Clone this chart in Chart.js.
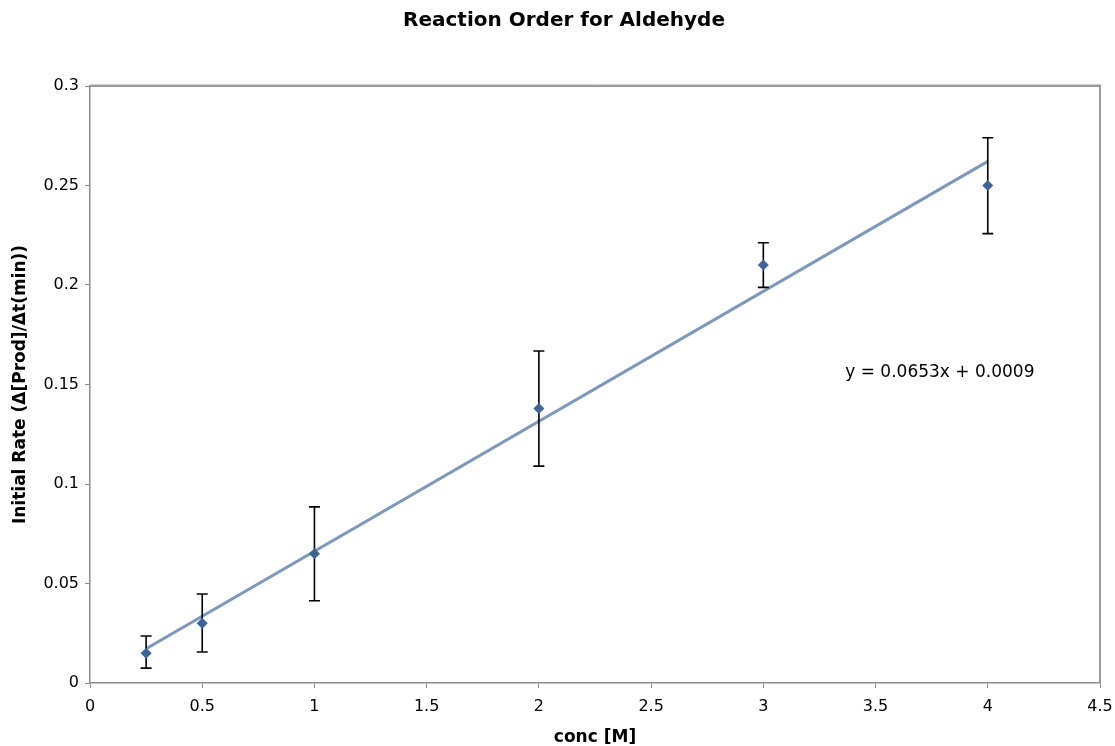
<!DOCTYPE html>
<html>
<head>
<meta charset="utf-8">
<title>Reaction Order for Aldehyde</title>
<script src="https://cdn.jsdelivr.net/npm/chart.js@4"></script>
<style>
  html, body { margin: 0; padding: 0; background: #fff; }
  #wrap { width: 1115px; height: 746px; }
</style>
</head>
<body>
<div id="wrap"><canvas id="rate-chart"></canvas></div>
<script>
// concentration [M] and measured initial rate
const concentrations = [0.25, 0.5, 1, 2, 3, 4];
const initialRates = [0.015, 0.030, 0.065, 0.138, 0.210, 0.250];
// error bar extents (upper / lower)
const rateHigh = [0.0236, 0.0447, 0.0885, 0.1668, 0.2212, 0.2740];
const rateLow = [0.0075, 0.0156, 0.0413, 0.1090, 0.1988, 0.2258];

// linear fit shown on the chart
const fitSlope = 0.0653;
const fitIntercept = 0.0009;
const fitLabel = "y = 0.0653x + 0.0009";
const fitLabelAt = { x: 3.365, y: 0.156 };

const chartTitle = "Reaction Order for Aldehyde";
const xTicks = [0, 0.5, 1, 1.5, 2, 2.5, 3, 3.5, 4, 4.5];
const yTicks = [0, 0.05, 0.1, 0.15, 0.2, 0.25, 0.3];

const fontFamily = "'DejaVu Sans', Verdana, sans-serif";

const points = concentrations.map((c, i) => ({ x: c, y: initialRates[i] }));
const xFirst = concentrations[0];
const xLast = concentrations[concentrations.length - 1];
const fitLine = [
  { x: xFirst, y: fitSlope * xFirst + fitIntercept },
  { x: xLast, y: fitSlope * xLast + fitIntercept },
];

// vertical error bars with caps, then the diamond markers on top
const errorBars = {
  id: "errorBars",
  afterDatasetsDraw(chart) {
    const { ctx, scales } = chart;
    ctx.save();
    ctx.strokeStyle = "#000";
    ctx.lineWidth = 1.6;
    concentrations.forEach((c, i) => {
      const px = scales.x.getPixelForValue(c);
      const top = scales.y.getPixelForValue(rateHigh[i]);
      const bot = scales.y.getPixelForValue(rateLow[i]);
      ctx.beginPath();
      ctx.moveTo(px, top);
      ctx.lineTo(px, bot);
      ctx.moveTo(px - 5.5, top);
      ctx.lineTo(px + 5.5, top);
      ctx.moveTo(px - 5.5, bot);
      ctx.lineTo(px + 5.5, bot);
      ctx.stroke();
    });
    const meta = chart.getDatasetMeta(0);
    ctx.fillStyle = "#3e6595";
    meta.data.forEach((pt) => {
      ctx.beginPath();
      ctx.moveTo(pt.x, pt.y - 5.5);
      ctx.lineTo(pt.x + 5.5, pt.y);
      ctx.lineTo(pt.x, pt.y + 5.5);
      ctx.lineTo(pt.x - 5.5, pt.y);
      ctx.closePath();
      ctx.fill();
    });
    ctx.restore();
  },
};

// title, top/right frame of the plot area and the fit equation
const frameAndLabel = {
  id: "frameAndLabel",
  afterDraw(chart) {
    const { ctx, chartArea, scales } = chart;
    ctx.save();
    ctx.strokeStyle = "#d4d4d4";
    ctx.lineWidth = 1;
    ctx.beginPath();
    ctx.moveTo(chartArea.left, chartArea.top - 1.5);
    ctx.lineTo(chartArea.right + 1.5, chartArea.top - 1.5);
    ctx.stroke();
    ctx.strokeStyle = "#9a9a9a";
    ctx.lineWidth = 2;
    ctx.beginPath();
    ctx.moveTo(chartArea.left, chartArea.top);
    ctx.lineTo(chartArea.right, chartArea.top);
    ctx.lineTo(chartArea.right, chartArea.bottom);
    ctx.stroke();

    ctx.fillStyle = "#000";
    ctx.textBaseline = "middle";
    ctx.textAlign = "center";
    ctx.font = "bold 20px " + fontFamily;
    ctx.fillText(chartTitle, 564, 21);

    ctx.font = "17px " + fontFamily;
    ctx.textAlign = "left";
    ctx.fillText(
      fitLabel,
      scales.x.getPixelForValue(fitLabelAt.x),
      scales.y.getPixelForValue(fitLabelAt.y)
    );
    ctx.restore();
  },
};

new Chart(document.getElementById("rate-chart"), {
  type: "scatter",
  data: {
    datasets: [
      {
        label: "Initial rate",
        data: points,
        pointRadius: 0,
        backgroundColor: "#3e6595",
        borderColor: "#3e6595",
        showLine: false,
      },
      {
        label: "Linear fit",
        data: fitLine,
        showLine: true,
        borderColor: "#7d98bb",
        borderWidth: 3,
        pointRadius: 0,
        fill: false,
      },
    ],
  },
  options: {
    responsive: true,
    maintainAspectRatio: false,
    animation: false,
    layout: { padding: { left: 0, right: 15, top: 86, bottom: 0 } },
    plugins: {
      legend: { display: false },
      tooltip: { enabled: false },
      title: { display: false },
    },
    scales: {
      x: {
        type: "linear",
        min: 0,
        max: 4.5,
        afterBuildTicks(scale) {
          scale.ticks = xTicks.map((v) => ({ value: v }));
        },
        afterFit(scale) {
          scale.height = 63;
          scale.paddingRight = 0;
        },
        grid: {
          display: true,
          drawOnChartArea: false,
          drawTicks: true,
          tickLength: 5,
          color: "#8c8c8c",
        },
        border: { display: true, color: "#8c8c8c", width: 1.5 },
        ticks: {
          color: "#000",
          padding: 9,
          maxRotation: 0,
          font: { family: fontFamily, size: 16 },
          callback: (v) => String(v),
        },
        title: {
          display: true,
          text: "conc [M]",
          color: "#000",
          font: { family: fontFamily, size: 17, weight: "bold" },
          padding: { top: 0, bottom: -2 },
        },
      },
      y: {
        type: "linear",
        min: 0,
        max: 0.3,
        afterBuildTicks(scale) {
          scale.ticks = yTicks.map((v) => ({ value: v }));
        },
        afterFit(scale) {
          scale.width = 90;
          scale.paddingTop = 0;
        },
        grid: {
          display: true,
          drawOnChartArea: false,
          drawTicks: true,
          tickLength: 5,
          color: "#8c8c8c",
        },
        border: { display: true, color: "#8c8c8c", width: 1.5 },
        ticks: {
          color: "#000",
          padding: 6,
          font: { family: fontFamily, size: 16 },
          callback: (v) => String(v),
        },
        title: {
          display: true,
          text: "Initial Rate (\u0394[Prod]/\u0394t(min))",
          color: "#000",
          font: { family: fontFamily, size: 17, weight: "bold" },
          padding: { top: 10, bottom: 0 },
        },
      },
    },
  },
  plugins: [errorBars, frameAndLabel],
});
</script>
</body>
</html>
